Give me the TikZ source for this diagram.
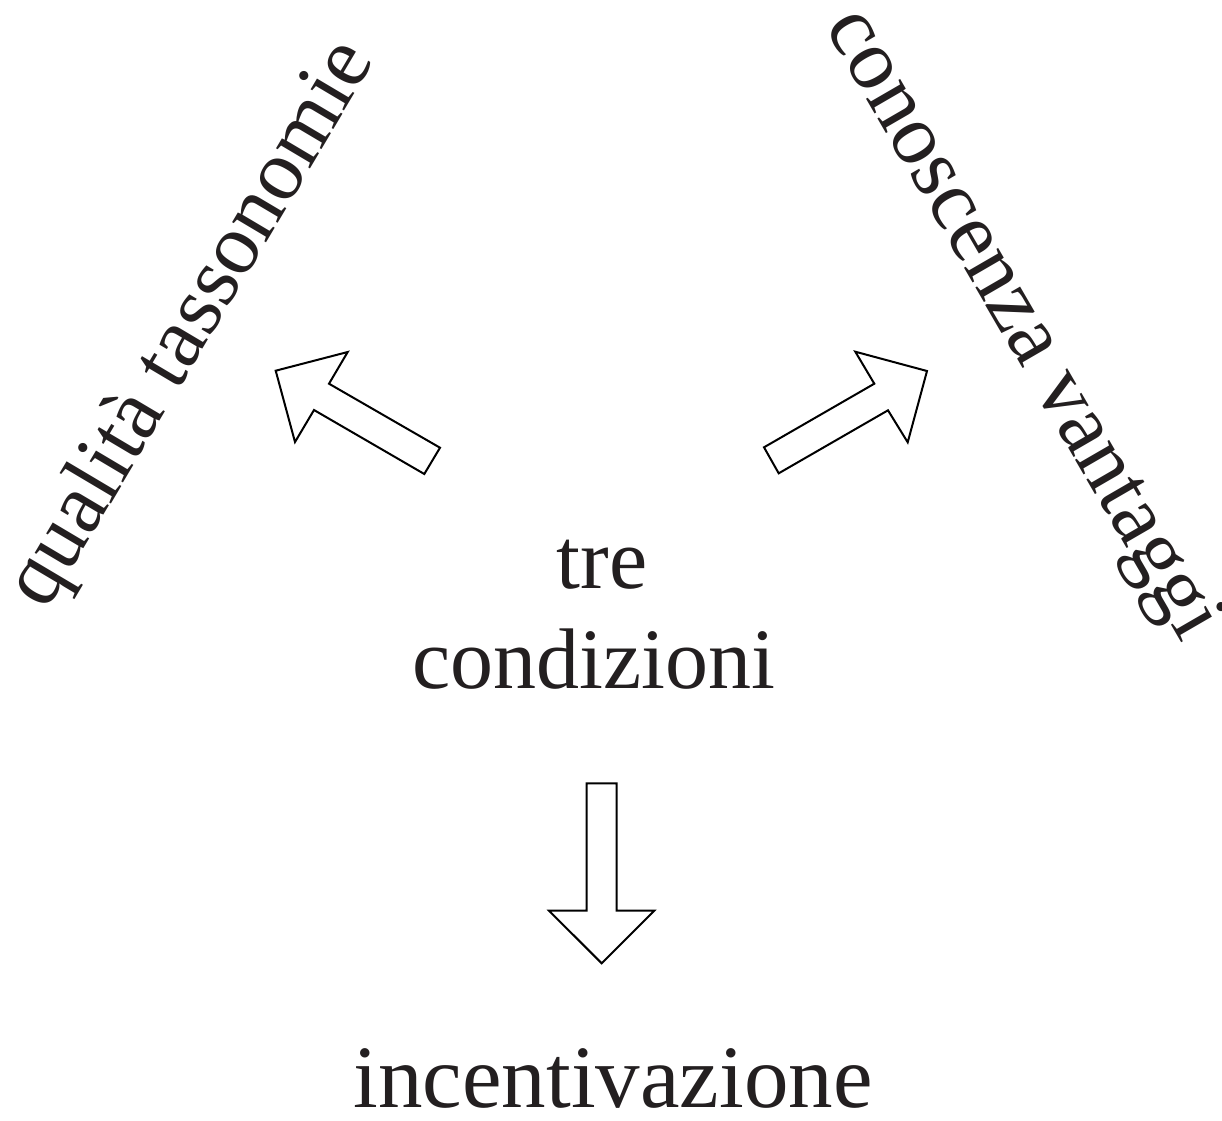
\documentclass[tikz,border=0pt]{standalone}
\usepackage{fontspec}
\setmainfont{Liberation Serif}
\definecolor{ink}{RGB}{35,31,32}
\begin{document}
\begin{tikzpicture}[x=1pt,y=-1pt,
  lbl/.style={inner sep=0pt, outer sep=0pt, text=ink, font=\fontsize{86}{100}\selectfont},
  blockarrow/.style={draw=black, line width=2pt, line join=miter, fill=white}]
\useasboundingbox (0,0) rectangle (1222,1120);
% texts
\node[lbl, anchor=base] (tre) at (602,588) {tre};
\node[lbl, anchor=base] (cond) at (594,688) {condizioni};
\node[lbl, anchor=base, font=\fontsize{89}{100}\selectfont] (inc) at (613,1107) {incentivazione};
\node[lbl, rotate=59.3] (qual) at (193,325) {qualità tassonomie};
\node[lbl, rotate=-59.9] (cono) at (1020,326) {conoscenza vantaggi};
% block arrows
\coordinate (lt) at (275.7,370.7);
\coordinate (rt) at (927,371);
\coordinate (dt) at (601.7,963.3);
\draw[blockarrow] (lt) -- (347.7,352) -- (329,383.7) -- (440,447.7) -- (424.3,474) -- (314,410) -- (295,442) -- cycle;
\draw[blockarrow] (rt) -- (907.7,442.3) -- (888,410.3) -- (778.7,473.3) -- (764,447.3) -- (874.3,383.7) -- (855.3,351.7) -- cycle;
\draw[blockarrow] (dt) -- (549,910.7) -- (586.7,910.7) -- (586.7,783.3) -- (616.7,783.3) -- (616.7,910.7) -- (654.3,910.7) -- cycle;
\end{tikzpicture}
\end{document}
